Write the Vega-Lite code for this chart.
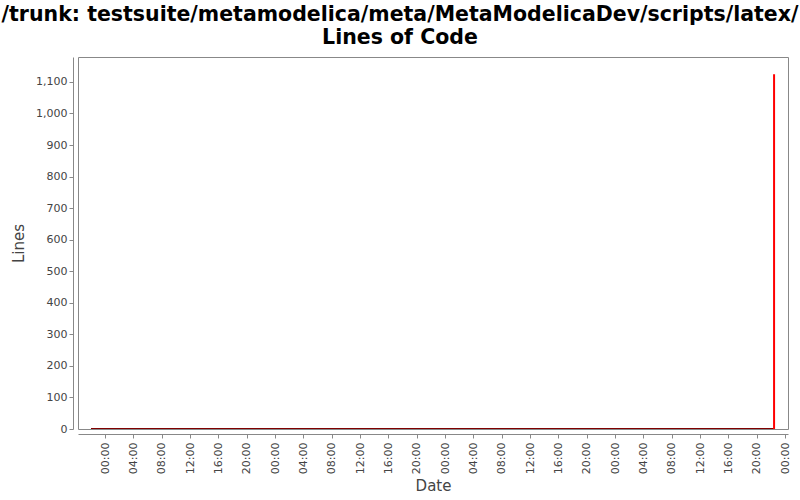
{
  "$schema": "https://vega.github.io/schema/vega-lite/v6.json",
  "width": 710,
  "height": 372,
  "autosize": {"type": "none"},
  "padding": {"left": 78, "top": 57, "right": 12, "bottom": 71},
  "background": "white",
  "title": {
    "text": ["/trunk: testsuite/metamodelica/meta/MetaModelicaDev/scripts/latex/", "Lines of Code"],
    "font": "DejaVu Sans",
    "fontSize": 20.5,
    "fontWeight": "bold",
    "color": "#000000",
    "lineHeight": 23,
    "anchor": "middle",
    "dx": -33,
    "offset": 9
  },
  "config": {
    "view": {"stroke": "#888888", "strokeWidth": 1},
    "axis": {
      "domainColor": "#888888",
      "tickColor": "#888888",
      "labelColor": "#444444",
      "titleColor": "#444444",
      "labelFont": "DejaVu Sans",
      "titleFont": "DejaVu Sans",
      "labelFontSize": 11,
      "titleFontSize": 15,
      "titleFontWeight": "normal",
      "grid": false,
      "tickSize": 4,
      "offset": 5
    }
  },
  "data": {
    "values": [
      {"t": "2010-02-28T22:01:00Z", "loc": 0, "s": "base"},
      {"t": "2010-03-04T22:27:00Z", "loc": 0, "s": "base"},
      {"t": "2010-03-04T22:27:00Z", "loc": 0, "s": "jump"},
      {"t": "2010-03-04T22:27:00Z", "loc": 1124, "s": "jump"}
    ]
  },
  "mark": {"type": "line", "strokeWidth": 2, "clip": true},
  "encoding": {
    "x": {
      "field": "t",
      "type": "temporal",
      "title": "Date",
      "scale": {"type": "utc", "domain": [1267387860000, 1267748700000]},
      "axis": {
        "format": "%H:%M",
        "values": [1267401600000, 1267416000000, 1267430400000, 1267444800000, 1267459200000, 1267473600000, 1267488000000, 1267502400000, 1267516800000, 1267531200000, 1267545600000, 1267560000000, 1267574400000, 1267588800000, 1267603200000, 1267617600000, 1267632000000, 1267646400000, 1267660800000, 1267675200000, 1267689600000, 1267704000000, 1267718400000, 1267732800000, 1267747200000],
        "labelAngle": -90,
        "labelAlign": "right",
        "labelBaseline": "middle",
        "labelPadding": 4,
        "titlePadding": 5
      }
    },
    "y": {
      "field": "loc",
      "type": "quantitative",
      "title": "Lines",
      "scale": {"domain": [0, 1179], "nice": false},
      "axis": {
        "values": [0, 100, 200, 300, 400, 500, 600, 700, 800, 900, 1000, 1100],
        "format": ",d",
        "labelPadding": 2,
        "titlePadding": 9
      }
    },
    "color": {
      "field": "s",
      "type": "nominal",
      "scale": {"domain": ["base", "jump"], "range": ["#800000", "#ff0000"]},
      "legend": null
    },
    "order": {"field": "loc", "type": "quantitative"}
  }
}
